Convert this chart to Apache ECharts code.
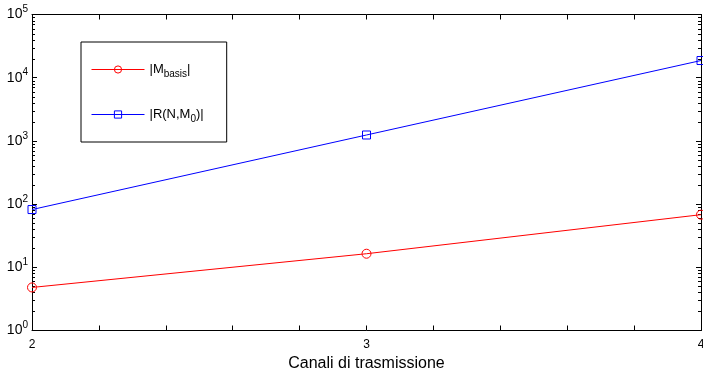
<!DOCTYPE html>
<html>
<head>
<meta charset="utf-8">
<script src="https://cdn.jsdelivr.net/npm/echarts@6/dist/echarts.min.js"></script>
<style>html,body{margin:0;padding:0;background:#fff}#c{width:703px;height:370px}</style>
</head>
<body>
<div id="c"></div>
<script>
const channels = [2, 3, 4];
const mBasis = [4.8, 16.4, 68];
const rNM0 = [82, 1240, 18700];
const minorTicks = [];
[1, 10, 100, 1000, 10000].forEach(d => { for (let k = 2; k <= 9; k++) minorTicks.push(d * k); });
const xTitle = 'Canali di trasmissione';

const font = 'Liberation Sans, Arial, Helvetica, sans-serif';
const chart = echarts.init(document.getElementById('c'), null, {renderer: 'canvas'});

function yLabel(v) {
  const e = Math.round(Math.log10(v));
  return '{b|10}{s|' + e + '}';
}
const yRich = {
  b: {fontSize: 14, fontFamily: font, color: '#000'},
  s: {fontSize: 10, fontFamily: font, color: '#000', padding: [0, 0, 10, 0]}
};
const RED = '#ff0000', BLUE = '#0000ff', CLEAR = 'rgba(0,0,0,0)';

chart.setOption({
  animation: false,
  backgroundColor: '#fff',
  grid: {left: 32, right: 2, top: 14.5, bottom: 39.5, containLabel: false, outerBoundsMode: 'none'},
  legend: {
    orient: 'vertical',
    left: 81, top: 42,
    data: ['|M_basis|', '|R(N,M_0)|'],
    backgroundColor: '#fff',
    borderColor: '#000', borderWidth: 1,
    padding: [21, 23, 18, 10],
    itemGap: 29,
    itemWidth: 53, itemHeight: 9,
    lineStyle: {width: 1, color: 'inherit'},
    itemStyle: {borderWidth: 1, borderColor: 'inherit', color: CLEAR},
    formatter: function (name) {
      if (name === '|M_basis|') return '{t||M}{u|basis}{t||}';
      return '{t||R(N,M}{u|0}{t|)|}';
    },
    textStyle: {
      rich: {
        t: {fontSize: 13, fontFamily: font, color: '#000'},
        u: {fontSize: 10, fontFamily: font, color: '#000', padding: [9, 0, 0, 0]}
      }
    }
  },
  xAxis: [{
    type: 'value', min: 2, max: 4, interval: 0.2, position: 'bottom',
    axisLine: {lineStyle: {color: '#000', width: 1}},
    axisTick: {inside: true, length: 5, lineStyle: {color: '#000'}},
    splitLine: {show: false},
    axisLabel: {
      fontSize: 12, fontFamily: font, color: '#000', margin: 8,
      formatter: v => Math.abs(v - Math.round(v)) < 1e-6 ? String(Math.round(v)) : ''
    },
    name: xTitle, nameLocation: 'middle', nameGap: 16,
    nameTextStyle: {fontSize: 16, fontFamily: font, color: '#000'}
  }, {
    type: 'value', min: 2, max: 4, interval: 0.2, position: 'top',
    axisLine: {show: true, lineStyle: {color: '#000', width: 1}},
    axisTick: {inside: true, length: 5, lineStyle: {color: '#000'}},
    splitLine: {show: false},
    axisLabel: {show: false}
  }],
  yAxis: [{
    type: 'log', logBase: 10, min: 1, max: 100000, position: 'left',
    axisLine: {show: true, lineStyle: {color: '#000', width: 1}},
    axisTick: {inside: true, length: 5, lineStyle: {color: '#000'}},
    splitLine: {show: false},
    axisLabel: {formatter: yLabel, rich: yRich, margin: 4}
  }, {
    type: 'log', logBase: 10, min: 1, max: 100000, position: 'right',
    axisLine: {show: true, lineStyle: {color: '#000', width: 1}},
    axisTick: {inside: true, length: 5, lineStyle: {color: '#000'}},
    splitLine: {show: false},
    axisLabel: {show: false}
  }],
  series: [{
    name: '|M_basis|', type: 'line',
    data: channels.map((c, i) => [c, mBasis[i]]),
    symbol: 'circle', symbolSize: 9,
    lineStyle: {color: RED, width: 1},
    itemStyle: {color: CLEAR, borderColor: RED, borderWidth: 1},
    z: 5
  }, {
    name: '|R(N,M_0)|', type: 'line',
    data: channels.map((c, i) => [c, rNM0[i]]),
    symbol: 'rect', symbolSize: 8,
    lineStyle: {color: BLUE, width: 1},
    itemStyle: {color: CLEAR, borderColor: BLUE, borderWidth: 1},
    z: 5
  }, {
    type: 'custom', silent: true, clip: false,
    data: minorTicks.map(v => [2, v]),
    renderItem: function (params, api) {
      const cs = params.coordSys;
      const y = Math.round(api.coord([2, api.value(1)])[1]) + 0.5;
      return {
        type: 'group',
        children: [
          {type: 'line', shape: {x1: cs.x, y1: y, x2: cs.x + 3, y2: y}, style: {stroke: '#000', lineWidth: 1}},
          {type: 'line', shape: {x1: cs.x + cs.width - 3, y1: y, x2: cs.x + cs.width, y2: y}, style: {stroke: '#000', lineWidth: 1}}
        ]
      };
    },
    z: 3
  }]
});
</script>
</body>
</html>
